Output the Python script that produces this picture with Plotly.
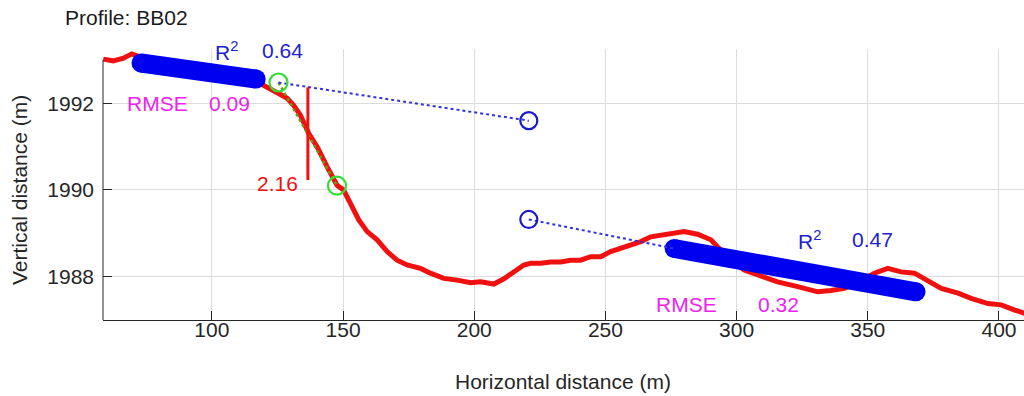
import plotly.graph_objects as go

# ---- data ----
profile_x = [58.6, 62.4, 66.3, 69.5, 72.6, 80.3, 87.9, 95.5, 103.2, 110.8, 116.9, 119.7, 123.5, 128.6,
             131.1, 133.7, 136.9, 140.1, 143.9, 147.7, 150.2, 152.8, 156.0, 159.2, 163.0, 166.8, 170.6,
             174.4, 179.5, 183.3, 188.4, 193.5, 198.6, 202.4, 207.5, 211.3, 215.1, 218.9, 221.5, 225.3,
             229.1, 232.9, 236.7, 240.5, 244.4, 248.2, 252.0, 255.8, 259.7, 263.5, 267.3, 271.1, 275.0,
             280.0, 285.1, 287.6, 290.2, 292.7, 295.9, 299.7, 302.9, 308.0, 315.6, 323.3, 330.9, 336.0,
             341.1, 345.5, 349.3, 352.5, 357.6, 362.7, 367.8, 372.9, 378.0, 384.4, 389.4, 395.8, 400.9,
             406.0, 409.8, 414.2]
profile_y = [1993.02, 1992.98, 1993.04, 1993.14, 1993.07, 1992.98, 1992.88, 1992.79, 1992.72, 1992.63,
             1992.51, 1992.42, 1992.27, 1992.12, 1991.96, 1991.73, 1991.31, 1991.00, 1990.54, 1990.11,
             1990.00, 1989.69, 1989.31, 1989.04, 1988.85, 1988.58, 1988.38, 1988.27, 1988.19, 1988.08,
             1987.96, 1987.92, 1987.86, 1987.88, 1987.83, 1987.95, 1988.11, 1988.27, 1988.31, 1988.31,
             1988.34, 1988.34, 1988.38, 1988.38, 1988.46, 1988.46, 1988.58, 1988.65, 1988.73, 1988.81,
             1988.92, 1988.96, 1989.01, 1989.04, 1988.98, 1988.92, 1988.85, 1988.69, 1988.50, 1988.31,
             1988.15, 1988.04, 1987.88, 1987.77, 1987.65, 1987.68, 1987.73, 1987.85, 1987.99, 1988.08,
             1988.19, 1988.11, 1988.08, 1987.92, 1987.73, 1987.62, 1987.50, 1987.38, 1987.35, 1987.23,
             1987.15, 1987.07]

fit1_x = [73.0, 116.9]
fit1_y = [1992.93, 1992.56]
fit2_x = [276.2, 368.4]
fit2_y = [1988.65, 1987.65]

break_x = [125.4, 147.7]          # green circles (scarp top / bottom)
break_y = [1992.48, 1990.10]

proj_x = [220.8, 220.8]           # projected open circles
proj_y = [1991.60, 1989.32]

height_x = [136.6, 136.6]         # vertical offset bar
height_y = [1990.23, 1992.37]

r2_values = ["0.64", "0.47"]
rmse_values = ["0.09", "0.32"]
offset_label = "2.16"

x_ticks = [100, 150, 200, 250, 300, 350, 400]
y_ticks = [1988, 1990, 1992]

FONT = "Liberation Sans, Arial, sans-serif"
BLUE = "#0000f0"
TXT_BLUE = "#2222cc"
MAG = "#ee22ee"
RED = "#f01010"
GREEN = "#33dd33"
AX = "#262626"

fig = go.Figure()

# profile
fig.add_trace(go.Scatter(x=profile_x, y=profile_y, mode="lines",
                         line=dict(color=RED, width=5), hoverinfo="skip"))
# dotted green line along scarp
fig.add_trace(go.Scatter(x=break_x, y=break_y, mode="lines",
                         line=dict(color="#6a9a10", width=2.5, dash="dot")))
# fitted surfaces as thick bands
for fx, fy in [(fit1_x, fit1_y), (fit2_x, fit2_y)]:
    fig.add_trace(go.Scatter(x=fx, y=fy, mode="lines+markers",
                             line=dict(color=BLUE, width=19),
                             marker=dict(color=BLUE, size=19, line=dict(width=0))))
# dotted projection lines
fig.add_trace(go.Scatter(x=[break_x[0], proj_x[0]], y=[break_y[0], proj_y[0]], mode="lines",
                         line=dict(color="#3030e0", width=2, dash="dot")))
fig.add_trace(go.Scatter(x=[proj_x[1], fit2_x[0]], y=[proj_y[1], fit2_y[0]], mode="lines",
                         line=dict(color="#3030e0", width=2, dash="dot")))
# open projected circles
fig.add_trace(go.Scatter(x=proj_x, y=proj_y, mode="markers",
                         marker=dict(symbol="circle-open", size=17, color="#1a1acc", line=dict(width=2.2))))
# green break circles
fig.add_trace(go.Scatter(x=break_x, y=break_y, mode="markers",
                         marker=dict(symbol="circle-open", size=18, color=GREEN, line=dict(width=2.2))))
# vertical offset bar
fig.add_trace(go.Scatter(x=height_x, y=height_y, mode="lines",
                         line=dict(color=RED, width=3)))

ann = []
def txt(x, y, s, color):
    ann.append(dict(x=x, y=y, xref="x", yref="y", text=s, showarrow=False,
                    xanchor="left", yanchor="middle",
                    font=dict(family=FONT, size=21, color=color)))

txt(100.5, 1993.21, "R<sup>2</sup>", TXT_BLUE)
txt(118.4, 1993.21, r2_values[0], TXT_BLUE)
txt(66.9, 1992.0, "RMSE", MAG)
txt(98.2, 1992.0, rmse_values[0], MAG)
txt(116.5, 1990.14, offset_label, RED)
txt(322.6, 1988.85, "R<sup>2</sup>", TXT_BLUE)
txt(343.2, 1988.85, r2_values[1], TXT_BLUE)
txt(268.4, 1987.35, "RMSE", MAG)
txt(307.3, 1987.35, rmse_values[1], MAG)

# axis titles (paper coords relative to plot area: x 103..1024 px, y 320..49 px)
ann.append(dict(x=(563 - 103) / 921, y=-(381 - 320) / 271, xref="paper", yref="paper",
                text="Horizontal distance (m)", showarrow=False,
                xanchor="center", yanchor="middle", font=dict(family=FONT, size=21, color=AX)))
ann.append(dict(x=-83 / 921, y=0.5 * (1987 + 1993), xref="paper", yref="y",
                text="Vertical distance (m)", showarrow=False, textangle=-90,
                xanchor="center", yanchor="middle", font=dict(family=FONT, size=21, color=AX)))

fig.update_layout(
    width=1024, height=396,
    margin=dict(l=103, r=0, t=49, b=76),
    paper_bgcolor="white", plot_bgcolor="white",
    showlegend=False,
    font=dict(family=FONT, size=21, color=AX),
    title=dict(text="Profile: BB02", x=65 / 1024, xref="container", xanchor="left",
               y=1 - 18 / 396, yref="container", yanchor="middle",
               font=dict(family=FONT, size=21, color="#1a1a1a")),
    annotations=ann,
    shapes=[
        dict(type="rect", xref="paper", yref="y", x0=0, x1=1, y0=1993, y1=1993.3,
             fillcolor="white", line=dict(width=0), layer="between"),
        dict(type="line", xref="paper", yref="y", x0=0, x1=0, y0=1987, y1=1993,
             line=dict(color=AX, width=1)),
    ],
)
fig.update_xaxes(range=[58.51, 409.54], tickvals=x_ticks, ticks="inside", ticklen=9,
                 tickcolor=AX, showline=True, linecolor=AX, linewidth=1,
                 showgrid=True, gridcolor="#dcdcdc", gridwidth=1, zeroline=False,
                 tickfont=dict(family=FONT, size=21, color=AX), ticklabelstandoff=-9)
fig.update_yaxes(range=[1987, 1993.253], tickvals=y_ticks, ticks="inside", ticklen=9,
                 tickcolor=AX, showline=False,
                 showgrid=True, gridcolor="#dcdcdc", gridwidth=1, zeroline=False,
                 tickfont=dict(family=FONT, size=21, color=AX), ticklabelstandoff=8)

fig.write_html("out.html")
